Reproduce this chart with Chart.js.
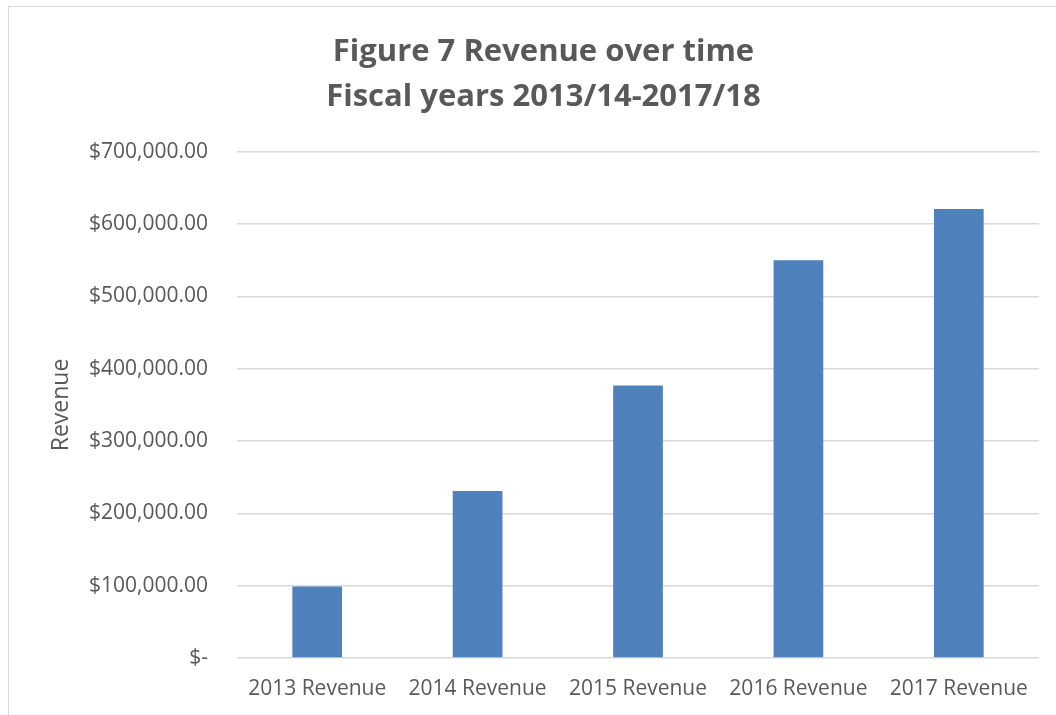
<!DOCTYPE html>
<html>
<head>
<meta charset="utf-8">
<script src="https://cdn.jsdelivr.net/npm/chart.js@4"></script>
<style>
  html, body { margin: 0; padding: 0; background: #fff; overflow: hidden; }
  #frame {
    position: absolute; left: 8px; top: 6px; width: 1100px; height: 760px;
    border: 1px solid #d9d9d9; box-sizing: border-box;
  }
  #wrap { position: absolute; left: 0; top: 0; width: 1056px; height: 715px; }
</style>
</head>
<body>
<div id="frame"></div>
<div id="wrap"><canvas id="revenueChart" width="1056" height="715"></canvas></div>
<script>
(function() {
  'use strict';

  // ==================== Data ====================
  const categories = ['2013 Revenue', '2014 Revenue', '2015 Revenue', '2016 Revenue', '2017 Revenue'];
  const revenue = [99000, 231000, 377000, 550000, 621000];
  const titleLines = ['Figure 7 Revenue over time', 'Fiscal years 2013/14-2017/18'];

  const textColor = '#595959';
  const fontFamily = "'Open Sans', 'Liberation Sans', sans-serif";

  function money(v) {
    if (v === 0) return '$-';
    return '$' + v.toLocaleString('en-US', { minimumFractionDigits: 2, maximumFractionDigits: 2 });
  }

  // ==================== Chart ====================
  const ctx = document.getElementById('revenueChart').getContext('2d');

  new Chart(ctx, {
    type: 'bar',
    data: {
      labels: categories,
      datasets: [{
        label: 'Revenue',
        data: revenue,
        backgroundColor: '#4f81bd',
        borderWidth: 0,
        categoryPercentage: 1,
        barPercentage: 0.31
      }]
    },
    options: {
      responsive: false,
      animation: false,
      layout: {
        padding: { left: 48, right: 17, top: 30, bottom: 14 }
      },
      plugins: {
        legend: { display: false },
        tooltip: { enabled: false },
        title: {
          display: true,
          text: titleLines,
          color: textColor,
          font: { family: fontFamily, size: 31, weight: 'bold', lineHeight: 1.45 },
          padding: { top: 0, bottom: 32 }
        }
      },
      scales: {
        x: {
          afterFit: function(scale) { scale.height = 43; },
          grid: { display: false, drawTicks: false },
          border: { display: false },
          ticks: {
            color: textColor,
            font: { family: fontFamily, size: 21 },
            padding: 18,
            maxRotation: 0
          }
        },
        y: {
          min: 0,
          max: 700000,
          afterFit: function(scale) { scale.width = 189; },
          ticks: {
            stepSize: 100000,
            color: textColor,
            font: { family: fontFamily, size: 21 },
            padding: 29,
            callback: function(v) { return money(v); }
          },
          grid: { color: '#d9d9d9', lineWidth: 1.5, drawTicks: false },
          border: { display: false },
          title: {
            display: true,
            text: 'Revenue',
            color: textColor,
            font: { family: fontFamily, size: 23 },
            padding: 0
          }
        }
      }
    }
  });
})();
</script>
</body>
</html>
